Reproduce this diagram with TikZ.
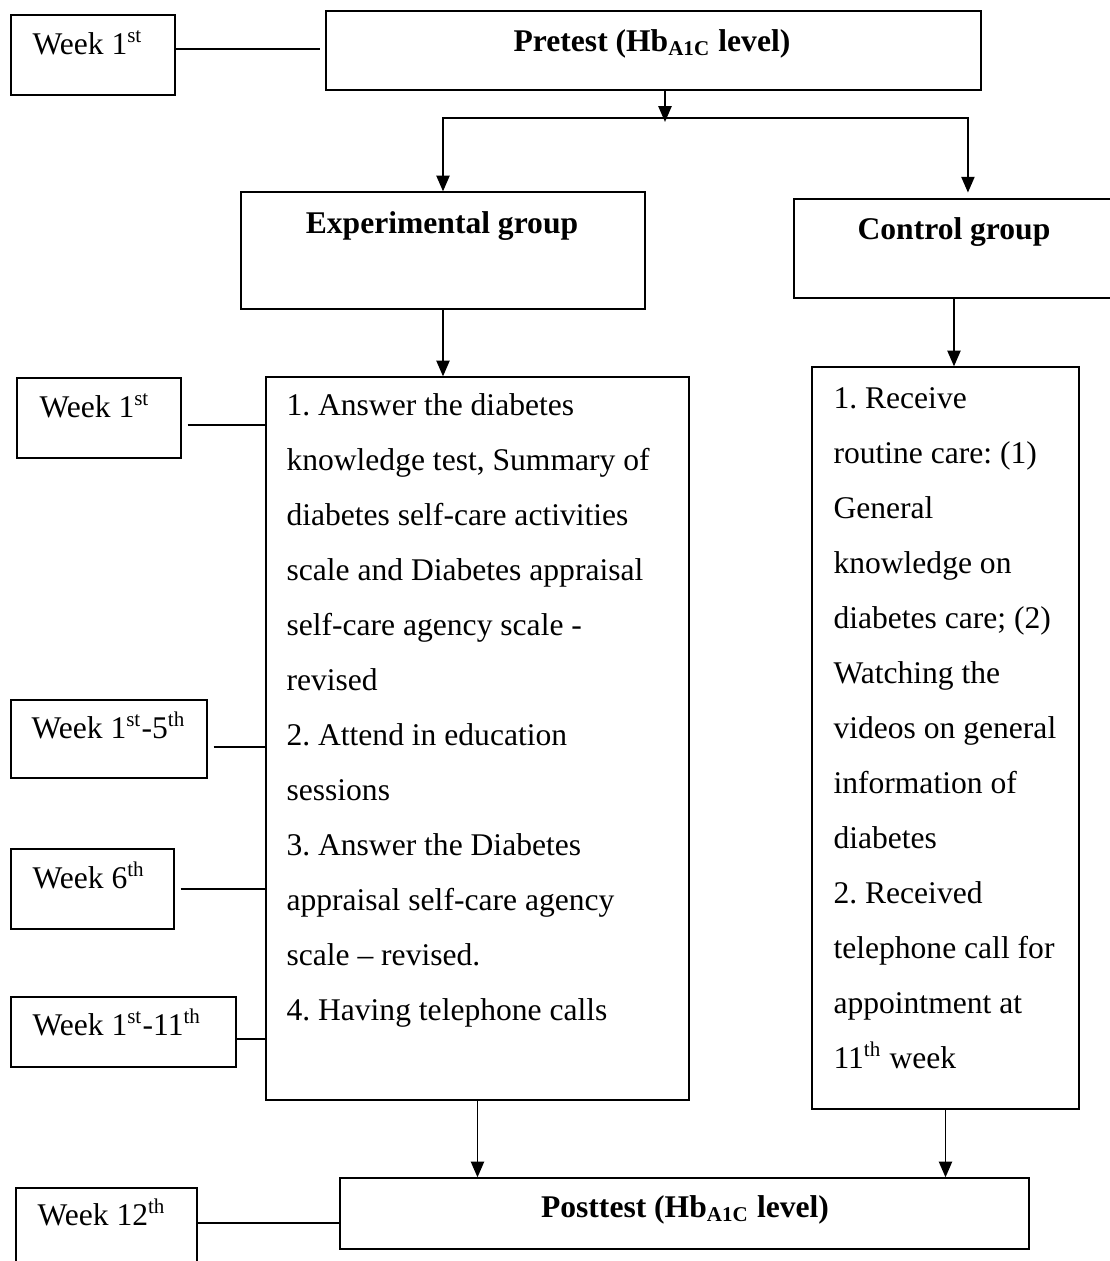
\documentclass[tikz,border=0pt]{standalone}
\usepackage{fontspec}
\setmainfont{Liberation Serif}
\usetikzlibrary{arrows.meta,positioning,fit}
\tikzset{
  box/.style={draw=black,line width=0.5pt,inner sep=0pt},
  txt/.style={inner sep=0pt,align=left,font=\fontsize{12}{20.9}\selectfont},
  hd/.style={txt,font=\fontsize{12}{14}\selectfont\bfseries,anchor=base},
  wtxt/.style={txt,anchor=base west},
  link/.style={line width=0.5pt},
  gap/.style={link,shorten <=2.3pt},
  flow/.style={-{Triangle[length=6pt,width=5pt]},line width=0.7pt},
}
\newcommand{\hba}{Hb\textsubscript{A1C}}
\newcommand{\ord}[1]{\textsuperscript{#1}}
\frenchspacing

\begin{document}
\begin{tikzpicture}[x=0.38pt,y=-0.38pt]
  \useasboundingbox (0,0) rectangle (1110,1261);
  % main boxes
  \node[box,fit={(326,11) (981,90)}](pre){};
  \node[box,fit={(241,192) (645,309)}](exp){};
  \node[box,fit={(794,199) (1114,298)}](ctl){};
  \node[box,fit={(266,377) (689,1100)}](expd){};
  \node[box,fit={(812,367) (1079,1109)}](ctld){};
  \node[box,fit={(340,1178) (1029,1249)}](post){};
  % week boxes
  \node[box,fit={(11,15) (175,95)}](wk1){};
  \node[box,fit={(17,378) (181,458)}](wk1b){};
  \node[box,fit={(11,700) (207,778)}](wk5){};
  \node[box,fit={(11,849) (174,929)}](wk6){};
  \node[box,fit={(11,997) (236,1067)}](wk11){};
  \node[box,fit={(16,1188) (197,1290)}](wk12){};

  \node[hd](preT) at (652,51){Pretest (\hba{} level)};
  \node[hd](expT) at (442,233){Experimental group};
  \node[hd](ctlT) at (954,239){Control group};
  \node[hd](postT) at (685,1217){Posttest (\hba{} level)};

  % anchored at the baseline of the last line
  \node[txt,anchor=base west](expL) at (286,1020){1. Answer the diabetes\\
    knowledge test, Summary of\\ diabetes self-care activities\\
    scale and Diabetes appraisal\\ self-care agency scale -\\ revised\\
    2. Attend in education\\ sessions\\ 3. Answer the Diabetes\\
    appraisal self-care agency\\ scale -- revised.\\ 4. Having telephone calls};
  \node[txt,anchor=base west](ctlL) at (833,1068){1. Receive\\ routine care: (1)\\
    General\\ knowledge on\\ diabetes care; (2)\\ Watching the\\
    videos on general\\ information of\\ diabetes\\ 2. Received\\
    telephone call for\\ appointment at\\ 11\ord{th} week};

  \node[wtxt](wk1T) at (32,54){Week 1\ord{st}};
  \node[wtxt](wk1bT) at (39,417){Week 1\ord{st}};
  \node[wtxt](wk5T) at (31,738){Week 1\ord{st}-5\ord{th}};
  \node[wtxt](wk6T) at (32,888){Week 6\ord{th}};
  \node[wtxt](wk11T) at (32,1035){Week 1\ord{st}-11\ord{th}};
  \node[wtxt](wk12T) at (37,1225){Week 12\ord{th}};

  % week links
  \draw[link,shorten >=2pt](wk1.east |- 0,49) -- (pre.west |- 0,49);
  \draw[gap](wk1b.east |- 0,425) -- (expd.west |- 0,425);
  \draw[gap](wk5.east |- 0,747) -- (expd.west |- 0,747);
  \draw[gap](wk6.east |- 0,889) -- (expd.west |- 0,889);
  \draw[link](wk11.east |- 0,1039) -- (expd.west |- 0,1039);
  \draw[link](wk12.east |- 0,1223) -- (post.west |- 0,1223);

  % flow
  \coordinate (split) at (665,118);
  \draw[flow](pre.south -| split) -- ([yshift=-1.5pt]split);
  \draw[flow](split) -| (exp.north);
  \draw[flow](split) -| ([xshift=5.3pt,yshift=2.2pt]ctl.north);
  \draw[flow](exp.south) -- (exp.south |- expd.north);
  \draw[flow](ctl.south) -- (ctl.south |- ctld.north);
  \draw[flow](expd.south) -- (expd.south |- post.north);
  \draw[flow](ctld.south) -- (ctld.south |- post.north);
\end{tikzpicture}
\end{document}
